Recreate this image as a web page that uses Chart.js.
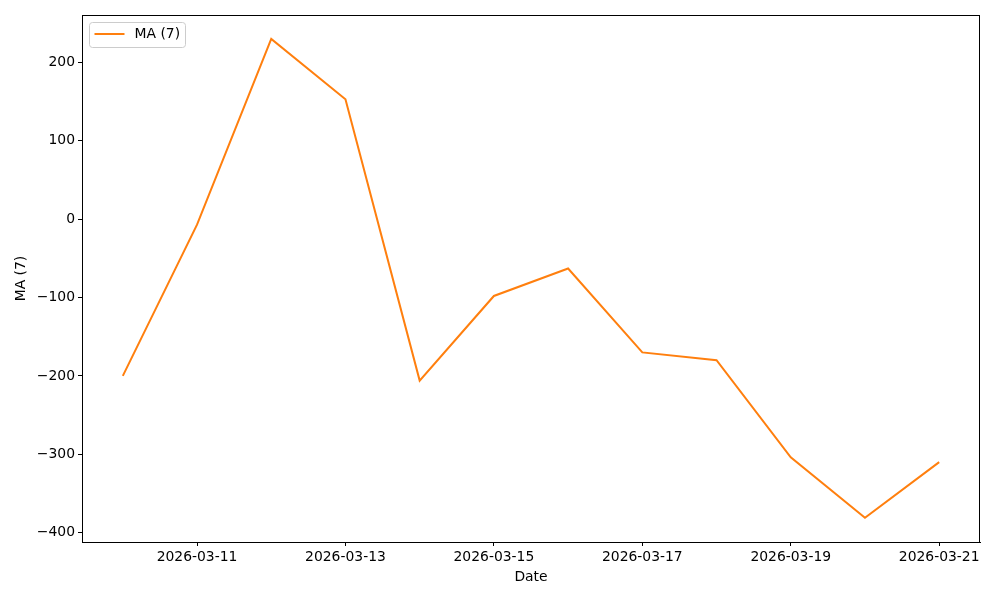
<!DOCTYPE html>
<html>
<head>
<meta charset="utf-8">
<script src="https://cdn.jsdelivr.net/npm/chart.js@4"></script>
<style>
  html, body { margin: 0; padding: 0; background: #fff; }
  #wrap { width: 1000px; height: 600px; }
</style>
</head>
<body>
<div id="wrap"><canvas id="myChart"></canvas></div>
<script>
// Данные
const dates = ['2026-03-10', '2026-03-11', '2026-03-12', '2026-03-13', '2026-03-14', '2026-03-15',
               '2026-03-16', '2026-03-17', '2026-03-18', '2026-03-19', '2026-03-20', '2026-03-21'];
const maValues = [-200, -7, 230, 153, -206, -98, -63, -170, -180, -304, -381, -310];
const xTickIdx = [1, 3, 5, 7, 9, 11];
const yTicks = [-400, -300, -200, -100, 0, 100, 200];
const seriesName = 'MA (7)';

const FONT = 'DejaVu Sans';
const FSIZE = 13.9;
const ORANGE = '#ff7f0e';

// Рамка вокруг области графика
const frame = {
    id: 'frame',
    afterDatasetsDraw(chart) {
        const { ctx, chartArea: a } = chart;
        ctx.save();
        ctx.strokeStyle = '#000';
        ctx.lineWidth = 1;
        ctx.strokeRect(Math.round(a.left) + 0.5, Math.round(a.top) + 0.5,
                       Math.round(a.right - a.left) - 1, Math.round(a.bottom - a.top));
        ctx.restore();
    }
};

// Легенда внутри графика, как в matplotlib
const innerLegend = {
    id: 'innerLegend',
    afterDraw(chart) {
        const ctx = chart.ctx;
        const a = chart.chartArea;
        const x = a.left + 7.5, y = a.top + 7.5, w = 96, h = 25;
        ctx.save();
        ctx.beginPath();
        ctx.roundRect(x, y, w, h, 3);
        ctx.fillStyle = 'rgba(255,255,255,0.8)';
        ctx.fill();
        ctx.strokeStyle = '#cccccc';
        ctx.lineWidth = 1;
        ctx.stroke();
        ctx.beginPath();
        ctx.moveTo(x + 5, y + 11.5);
        ctx.lineTo(x + 35, y + 11.5);
        ctx.strokeStyle = ORANGE;
        ctx.lineWidth = 2;
        ctx.stroke();
        ctx.fillStyle = '#000';
        ctx.font = FSIZE + 'px "' + FONT + '"';
        ctx.textBaseline = 'middle';
        ctx.fillText(seriesName, x + 45, y + 12);
        ctx.restore();
    }
};

const ctx = document.getElementById('myChart');

new Chart(ctx, {
    type: 'line',
    data: {
        datasets: [{
            label: seriesName,
            data: maValues.map((v, i) => ({ x: i, y: v })),
            borderColor: ORANGE,
            borderWidth: 2,
            pointRadius: 0,
            tension: 0,
            fill: false
        }]
    },
    options: {
        responsive: true,
        maintainAspectRatio: false,
        animation: false,
        layout: { padding: { left: 0, right: 20, top: 15, bottom: 0 } },
        plugins: {
            legend: { display: false },
            tooltip: { enabled: false }
        },
        scales: {
            x: {
                type: 'linear',
                min: -0.55,
                max: 11.55,
                afterBuildTicks: (s) => { s.ticks = xTickIdx.map(v => ({ value: v })); },
                afterFit: (s) => { s.height = 58; },
                grid: { drawOnChartArea: false, drawTicks: true, tickLength: 4, color: '#000' },
                border: { display: true, color: '#000' },
                ticks: {
                    color: '#000',
                    padding: 3,
                    maxRotation: 0,
                    font: { family: FONT, size: FSIZE },
                    callback: (v) => dates[v]
                },
                title: {
                    display: true,
                    text: 'Date',
                    color: '#000',
                    font: { family: FONT, size: FSIZE },
                    padding: { top: 0, bottom: 14 }
                }
            },
            y: {
                min: -412,
                max: 260.6,
                afterBuildTicks: (s) => { s.ticks = yTicks.map(v => ({ value: v })); },
                afterFit: (s) => { s.width = 82; },
                grid: { drawOnChartArea: false, drawTicks: true, tickLength: 4, color: '#000' },
                border: { display: true, color: '#000' },
                ticks: {
                    color: '#000',
                    padding: 3,
                    font: { family: FONT, size: FSIZE },
                    callback: (v) => String(v).replace('-', '\u2212')
                },
                title: {
                    display: true,
                    text: seriesName,
                    color: '#000',
                    font: { family: FONT, size: FSIZE },
                    padding: { top: 13, bottom: 0 }
                }
            }
        }
    },
    plugins: [frame, innerLegend]
});
</script>
</body>
</html>
